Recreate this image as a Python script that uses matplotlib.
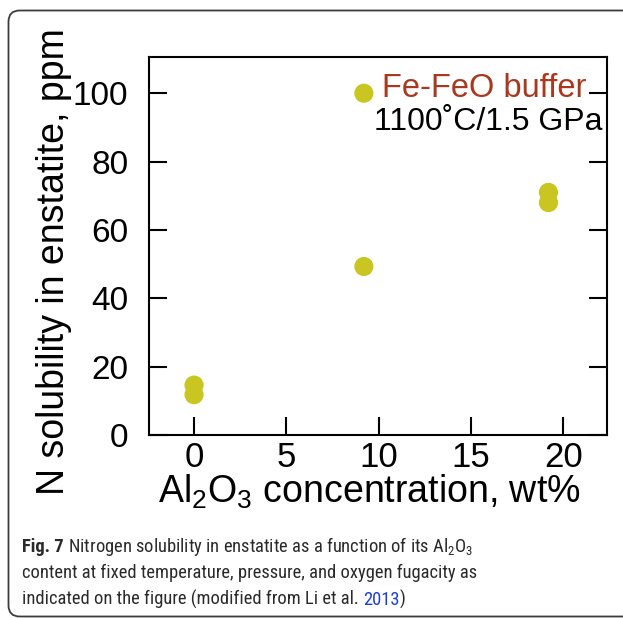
import matplotlib
matplotlib.use("Agg")
import matplotlib.pyplot as plt
from matplotlib import font_manager
from matplotlib.font_manager import FontProperties
from matplotlib.patches import FancyBboxPatch

# ---- data ----
al2o3 = [0.0, 0.0, 9.2, 9.2, 19.2, 19.2]
n_ppm = [14.6, 11.8, 100.0, 49.3, 71.0, 68.0]
xticks = [0, 5, 10, 15, 20]
yticks = [0, 20, 40, 60, 80, 100]
buffer_label = "Fe-FeO buffer"
cond_label = "1100˚C/1.5 GPa"
xlabel = "Al$_2$O$_3$ concentration, wt%"
ylabel = "N solubility in enstatite, ppm"

W, H = 623, 618
plt.rcParams['font.family'] = ['Liberation Sans', 'DejaVu Sans']
plt.rcParams['mathtext.default'] = 'regular'

fig = plt.figure(figsize=(W / 100, H / 100), dpi=100)
fig.patch.set_facecolor('white')

def fx(px):
    return px / W

def fy(py):
    return (H - py) / H

ax = fig.add_axes([fx(149), fy(435), fx(607) - fx(149), fy(57) - fy(435)])
ax.scatter(al2o3, n_ppm, s=190, color='#c9c521', edgecolors='none', zorder=3)
ax.set_xlim(-2.44, 22.37)
ax.set_ylim(0, 110.6)
ax.set_xticks(xticks)
ax.set_yticks(yticks)
ax.tick_params(axis='both', direction='in', length=13, width=1.5, labelsize=24,
               colors='black')
ax.tick_params(axis='y', right=True, pad=15)
ax.tick_params(axis='x', pad=4, labelsize=25)
for sp in ax.spines.values():
    sp.set_linewidth(1.5)

ax.text(0.956, 0.895, buffer_label, transform=ax.transAxes, ha='right',
        va='baseline', fontsize=23.5, color='#a8391f')
ax.text(0.991, 0.807, cond_label, transform=ax.transAxes, ha='right',
        va='baseline', fontsize=23, color='black')

fig.text(fx(369), fy(503), xlabel, ha='center', va='baseline', fontsize=27)
fig.text(fx(54), fy(261.5), ylabel, ha='center', va='center', rotation=90,
         fontsize=27)

# ---- border ----
border = FancyBboxPatch((fx(8.5), fy(616.5)), fx(660) - fx(8.5), fy(10.5) - fy(616.5),
                        boxstyle="round,pad=0,rounding_size=0.018",
                        transform=fig.transFigure, facecolor='none',
                        edgecolor='#3c3c3c', linewidth=1.3, clip_on=False)
fig.patches.append(border)

# ---- caption font selection ----
def wnum(w):
    if isinstance(w, int):
        return w
    return {'ultralight': 200, 'light': 300, 'normal': 400, 'regular': 400,
            'book': 400, 'medium': 500, 'semibold': 600, 'demibold': 600,
            'bold': 700, 'heavy': 800, 'extra bold': 800, 'black': 900}.get(str(w).lower(), 400)

entries = font_manager.fontManager.ttflist
reg_prop, bold_prop, cap_size = None, None, 11.5
for cand, sz in [('Open Sans Condensed', 13.3), ('Roboto Condensed', 13.3),
                 ('Liberation Sans Narrow', 12.8)]:
    fam = [e for e in entries if e.name == cand and e.style == 'normal']
    regs = [e for e in fam if 250 <= wnum(e.weight) <= 450]
    if regs:
        regs.sort(key=lambda e: abs(wnum(e.weight) - 400))
        reg_prop = FontProperties(fname=regs[0].fname)
        bolds = [e for e in fam if wnum(e.weight) >= 600]
        bolds.sort(key=lambda e: abs(wnum(e.weight) - 700))
        bold_prop = FontProperties(fname=bolds[0].fname) if bolds else FontProperties(family=cand, weight='bold')
        cap_size = sz
        break
if reg_prop is None:
    reg_prop = FontProperties(family='Open Sans')
    bold_prop = FontProperties(family='Open Sans', weight='bold')
    cap_size = 11.5

cap_col = '#2a2a2a'
renderer = fig.canvas.get_renderer()

def pieces(x0, ybase, parts):
    x = x0
    for txt, kw in parts:
        fp = (bold_prop if kw.get('bold') else reg_prop).copy()
        fp.set_size(cap_size)
        t = fig.text(fx(x), fy(ybase), txt, ha='left', va='baseline',
                     fontproperties=fp, color=kw.get('color', cap_col))
        ext = t.get_window_extent(renderer)
        x = ext.x1

pieces(22, 552, [("Fig. 7", {'bold': True}),
                 (" Nitrogen solubility in enstatite as a function of its Al$_2$O$_3$", {})])
pieces(22, 578, [("content at fixed temperature, pressure, and oxygen fugacity as", {})])
pieces(22, 605, [("indicated on the figure (modified from Li et al. ", {}),
                 ("2013", {'color': '#1a3fd6'}), (")", {})])

fig.savefig("out.png", dpi=100)
